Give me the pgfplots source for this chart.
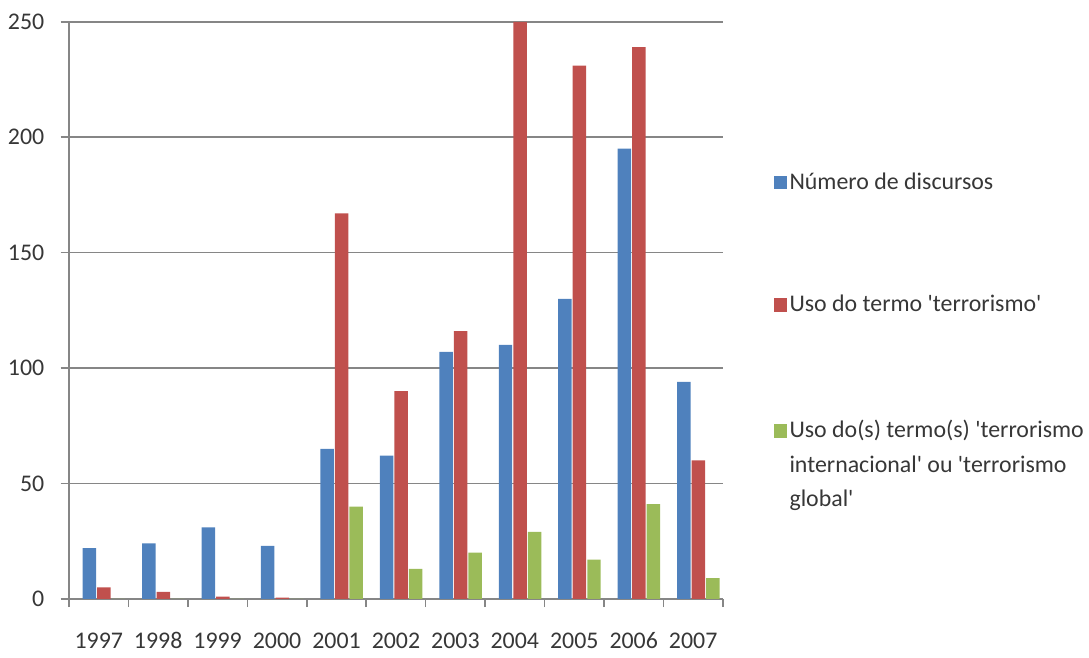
\documentclass[border=0pt]{standalone}
\usepackage{fontspec}
\setmainfont{Carlito}[Numbers=Lining]
\usepackage{pgfplots}
\pgfplotsset{compat=1.18}
\definecolor{cblue}{RGB}{79,129,189}
\definecolor{cred}{RGB}{192,80,77}
\definecolor{cgreen}{RGB}{155,187,89}
\definecolor{gridgray}{RGB}{134,134,134}
\definecolor{textgray}{RGB}{55,55,55}
\newcommand{\q}{\textquotesingle}
\pgfplotsset{/pgfplots/ybar legend/.style={/pgfplots/legend image code/.code={\fill[##1] (0pt,0pt) rectangle (13pt,13pt);}}}
\begin{document}
\fontsize{23}{27}\selectfont
\begin{tikzpicture}
\begin{axis}[
  scale only axis, width=630pt, height=556pt,
  xmin=-0.5, xmax=10.5, ymin=0, ymax=250,
  ybar, bar width=13pt,
  axis x line*=bottom, axis y line*=left,
  axis line style={gridgray, line width=1.5pt},
  ymajorgrids, grid style={gridgray, line width=1.5pt},
  ytick={0,50,100,150,200,250},
  xtick={0,1,2,3,4,5,6,7,8,9,10},
  xticklabels={1997,1998,1999,2000,2001,2002,2003,2004,2005,2006,2007},
  minor xtick={-0.5,0.5,1.5,2.5,3.5,4.5,5.5,6.5,7.5,8.5,9.5,10.5},
  tick align=outside,
  major tick length=8pt, minor tick length=8pt,
  major x tick style={draw=none},
  minor x tick style={gridgray, line width=1.5pt},
  major y tick style={gridgray, line width=1.5pt},
  /pgf/number format/assume math mode=true,
  ticklabel style={font=\fontsize{23}{27}\selectfont, text=textgray},
  yticklabel style={xshift=-8pt},
  xticklabel style={text height=17pt, text depth=1pt, yshift=-15pt},
  legend style={draw=none, fill=none, at={(1,1)}, anchor=north west,
    xshift=46pt, yshift=-141pt, font=\fontsize{23}{27}\selectfont, text=textgray,
    cells={anchor=base west}, /tikz/row sep=95pt,
    /tikz/every even column/.append style={column sep=0pt}},
]
\addplot[fill=cblue, draw=none, bar shift=-9pt]
  coordinates {(0,22) (1,24) (2,31) (3,23) (4,65) (5,62) (6,107) (7,110) (8,130) (9,195) (10,94)};
\addlegendentry{Número de discursos}
\addplot[fill=cred, draw=none, bar shift=5pt]
  coordinates {(0,5) (1,3) (2,1) (3,0.5) (4,167) (5,90) (6,116) (7,250) (8,231) (9,239) (10,60)};
\addlegendentry{Uso do termo \q terrorismo\q}
\addplot[fill=cgreen, draw=none, bar shift=19pt]
  coordinates {(0,0) (1,0) (2,0) (3,0) (4,40) (5,13) (6,20) (7,29) (8,17) (9,41) (10,9)};
\addlegendentry{\begin{tabular}[t]{@{}l@{}}Uso do(s) termo(s) \q terrorismo\\[6pt]internacional\q{} ou \q terrorismo\\[6pt]global\q\end{tabular}}
\end{axis}
\path ([yshift=21pt]current axis.north);
\end{tikzpicture}
\end{document}
